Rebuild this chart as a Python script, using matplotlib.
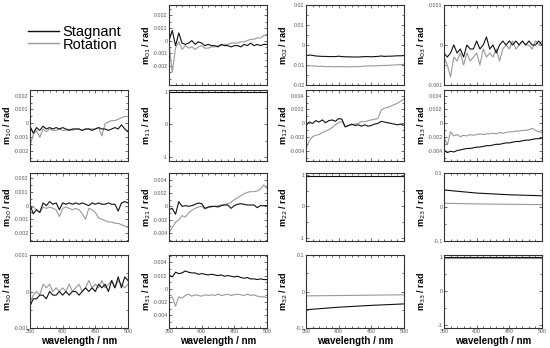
import numpy as np
import matplotlib
matplotlib.use("Agg")
import matplotlib.pyplot as plt
from matplotlib.ticker import MultipleLocator, AutoMinorLocator, FixedLocator

plt.rcParams['font.family'] = ['Liberation Sans', 'DejaVu Sans']

# wavelength grids (nm)
wl = np.arange(350, 505, 5)
wl4 = [350, 400, 450, 500]
wl2 = [350, 500]

# Mueller matrix elements, Stagnant (black) / Rotation (gray)
m01_s = [0.0000, 0.0008, -0.0004, 0.0006, -0.0002, -0.0003, -0.0002, 0.0000, -0.0003, -0.0001, -0.0002,
         -0.0004, -0.0003, -0.0004, -0.0004, -0.0005, -0.0003, -0.0004, -0.0004, -0.0005, -0.0004,
         -0.0004, -0.0005, -0.0003, -0.0004, -0.0002, -0.0004, -0.0003, -0.0004, -0.0003, -0.0003]
m01_r = [-0.0002, -0.0025, -0.0006, -0.0001, -0.0007, -0.0004, -0.0006, -0.0005, -0.0007, -0.0005, -0.0004,
         -0.0006, -0.0006, -0.0005, -0.0005, -0.0004, -0.0004, -0.0003, -0.0003, -0.0002, -0.0002,
         -0.0002, -0.0001, -0.0001, 0.0000, 0.0001, 0.0001, 0.0002, 0.0002, 0.0004, 0.0004]

m02_s = [-0.0055, -0.0050, -0.0052, -0.0055, -0.0056, -0.0057, -0.0057, -0.0058, -0.0058, -0.0058, -0.0056,
         -0.0058, -0.0059, -0.0059, -0.0060, -0.0060, -0.0060, -0.0059, -0.0058, -0.0058, -0.0059,
         -0.0058, -0.0057, -0.0055, -0.0057, -0.0056, -0.0056, -0.0055, -0.0054, -0.0054, -0.0053]
m02_r = [-0.0105, -0.0104, -0.0104, -0.0106, -0.0107, -0.0107, -0.0108, -0.0108, -0.0108, -0.0109, -0.0108,
         -0.0108, -0.0109, -0.0109, -0.0109, -0.0108, -0.0108, -0.0107, -0.0106, -0.0104, -0.0105,
         -0.0104, -0.0104, -0.0103, -0.0102, -0.0102, -0.0101, -0.0100, -0.0099, -0.0098, -0.0097]

m03_s = [-0.0002, -0.0003, -0.0002, 0.0000, -0.0002, -0.0001, -0.0003, 0.0000, -0.0001, -0.0001, 0.0001,
         -0.0001, 0.0000, 0.0002, -0.0001, 0.0000, -0.0002, 0.0000, 0.0001, 0.0000, 0.0001,
         0.0000, 0.0001, 0.0000, 0.0001, 0.0000, 0.0001, 0.0000, 0.0000, 0.0001, 0.0000]
m03_r = [-0.0003, -0.0005, -0.0008, -0.0003, -0.0004, -0.0002, -0.0005, -0.0002, -0.0004, -0.0003, -0.0002,
         -0.0005, -0.0001, -0.0003, -0.0002, -0.0003, -0.0001, -0.0004, -0.0001, 0.0000, -0.0001,
         0.0001, -0.0001, 0.0000, 0.0001, 0.0000, 0.0000, -0.0001, 0.0001, 0.0000, 0.0001]

m10_s = [-0.0002, -0.0007, -0.0003, -0.0005, -0.0002, -0.0004, -0.0003, -0.0004, -0.0003, -0.0004, -0.0003,
         -0.0004, -0.0005, -0.0004, -0.0004, -0.0004, -0.0005, -0.0004, -0.0004, -0.0005, -0.0004,
         -0.0003, -0.0004, -0.0004, -0.0005, -0.0004, -0.0003, -0.0004, -0.0001, -0.0004, -0.0006]
m10_r = [-0.0016, -0.0008, -0.0005, -0.0010, -0.0004, -0.0006, -0.0004, -0.0005, -0.0005, -0.0004, -0.0005,
         -0.0005, -0.0004, -0.0005, -0.0004, -0.0004, -0.0005, -0.0004, -0.0004, -0.0004, -0.0004,
         -0.0003, -0.0009, 0.0000, 0.0001, 0.0002, 0.0002, 0.0003, 0.0004, 0.0005, 0.0005]

m11_s = [0.99, 0.99]
m11_r = [0.98, 0.98]

m12_s = [-0.0003, 0.0002, 0.0000, 0.0004, 0.0002, 0.0005, 0.0001, 0.0004, 0.0005, 0.0003, 0.0007,
         0.0006, -0.0005, -0.0003, -0.0001, -0.0003, -0.0002, -0.0004, -0.0002, -0.0004, -0.0003,
         -0.0001, 0.0000, 0.0003, 0.0002, 0.0001, 0.0000, -0.0001, -0.0002, -0.0001, -0.0003]
m12_r = [-0.0036, -0.0025, -0.0019, -0.0017, -0.0016, -0.0013, -0.0011, -0.0009, -0.0006, -0.0002, 0.0001,
         0.0003, -0.0005, -0.0003, -0.0002, -0.0001, 0.0000, 0.0003, 0.0002, 0.0004, 0.0005,
         0.0006, 0.0007, 0.0019, 0.0022, 0.0023, 0.0025, 0.0027, 0.0029, 0.0032, 0.0035]

m13_s = [-0.0038, -0.0042, -0.0040, -0.0041, -0.0039, -0.0038, -0.0037, -0.0036, -0.0036, -0.0035, -0.0034,
         -0.0034, -0.0033, -0.0032, -0.0032, -0.0031, -0.0030, -0.0030, -0.0029, -0.0028, -0.0028,
         -0.0027, -0.0026, -0.0026, -0.0025, -0.0024, -0.0024, -0.0023, -0.0022, -0.0022, -0.0021]
m13_r = [-0.0020, -0.0031, -0.0012, -0.0018, -0.0016, -0.0019, -0.0017, -0.0018, -0.0016, -0.0017, -0.0016,
         -0.0015, -0.0016, -0.0015, -0.0015, -0.0014, -0.0015, -0.0013, -0.0014, -0.0013, -0.0012,
         -0.0012, -0.0011, -0.0011, -0.0010, -0.0010, -0.0009, -0.0007, -0.0010, -0.0012, -0.0013]

m20_s = [0.0001, -0.0006, -0.0003, -0.0005, 0.0002, 0.0000, 0.0003, 0.0001, 0.0002, -0.0003, 0.0002,
         0.0001, 0.0002, 0.0001, 0.0002, 0.0001, 0.0002, 0.0001, 0.0000, 0.0002, 0.0001,
         0.0002, 0.0001, 0.0001, 0.0002, 0.0001, 0.0001, -0.0004, 0.0002, 0.0003, 0.0002]
m20_r = [-0.0002, -0.0001, -0.0003, -0.0005, -0.0001, -0.0002, -0.0001, -0.0002, -0.0003, -0.0008, -0.0002,
         -0.0001, -0.0002, -0.0003, -0.0002, -0.0003, -0.0006, -0.0010, -0.0002, -0.0003, -0.0005,
         -0.0009, -0.0010, -0.0011, -0.0012, -0.0012, -0.0013, -0.0013, -0.0014, -0.0015, -0.0016]

m21_s = [-0.0005, -0.0003, -0.0012, 0.0007, 0.0000, 0.0001, 0.0000, 0.0001, 0.0003, 0.0005, 0.0004,
         -0.0003, -0.0001, 0.0000, 0.0000, -0.0001, 0.0001, 0.0002, 0.0002, -0.0003, 0.0001,
         0.0003, 0.0004, 0.0003, 0.0002, 0.0002, 0.0002, -0.0002, 0.0001, 0.0001, 0.0001]
m21_r = [-0.0040, -0.0032, -0.0024, -0.0020, -0.0014, -0.0016, -0.0010, -0.0006, -0.0003, -0.0001, 0.0000,
         -0.0004, -0.0002, -0.0001, 0.0000, 0.0001, 0.0002, 0.0003, 0.0004, 0.0006, 0.0010,
         0.0013, 0.0016, 0.0019, 0.0021, 0.0022, 0.0022, 0.0023, 0.0026, 0.0032, 0.0027]

m22_s = [0.98, 0.98]
m22_r = [0.97, 0.97]

m23_s = [0.050, 0.041, 0.036, 0.033]
m23_r = [0.011, 0.009, 0.008, 0.007]

m30_s = [-0.0004, -0.0002, -0.0002, -0.0001, -0.0001, -0.0002, 0.0000, -0.0001, -0.0001, 0.0000, -0.0001,
         0.0000, -0.0001, 0.0000, 0.0000, -0.0001, 0.0000, 0.0001, 0.0000, 0.0001, 0.0000,
         0.0002, 0.0001, 0.0002, 0.0000, 0.0003, 0.0001, 0.0004, 0.0001, 0.0004, 0.0003]
m30_r = [-0.0003, -0.0001, 0.0000, -0.0001, 0.0002, 0.0001, 0.0002, 0.0000, 0.0001, 0.0000, 0.0001,
         0.0000, 0.0002, 0.0000, 0.0001, 0.0002, 0.0000, 0.0001, 0.0003, 0.0001, 0.0002,
         0.0001, 0.0003, 0.0001, 0.0002, 0.0003, 0.0001, 0.0003, 0.0002, 0.0001, 0.0002]

m31_s = [0.0021, 0.0018, 0.0025, 0.0023, 0.0024, 0.0027, 0.0025, 0.0024, 0.0024, 0.0022, 0.0023,
         0.0022, 0.0021, 0.0022, 0.0021, 0.0020, 0.0021, 0.0019, 0.0020, 0.0019, 0.0018,
         0.0019, 0.0017, 0.0016, 0.0017, 0.0015, 0.0015, 0.0014, 0.0015, 0.0014, 0.0014]
m31_r = [-0.0015, -0.0012, -0.0026, -0.0012, -0.0014, -0.0010, -0.0008, -0.0011, -0.0009, -0.0010, -0.0011,
         -0.0009, -0.0010, -0.0009, -0.0010, -0.0008, -0.0010, -0.0009, -0.0008, -0.0010, -0.0009,
         -0.0008, -0.0009, -0.0010, -0.0008, -0.0010, -0.0009, -0.0011, -0.0012, -0.0012, -0.0013]

m32_s = [-0.050, -0.043, -0.038, -0.034]
m32_r = [-0.012, -0.011, -0.010, -0.009]

m33_s = [0.99, 0.99]
m33_r = [0.98, 0.98]

# y tick values / labels per kind of panel
t2 = [-0.002, -0.001, 0, 0.001, 0.002]
l2 = ['-0.002', '-0.001', '0', '0.001', '0.002']
t4 = [-0.004, -0.002, 0, 0.002, 0.004]
l4 = ['-0.004', '-0.002', '0', '0.002', '0.004']
t1 = [-0.001, 0, 0.001]
l1 = ['-0.001', '0', '0.001']
tu = [-1, 0, 1]
lu = ['-1', '0', '1']
t01 = [-0.1, 0, 0.1]
l01 = ['-0.1', '0', '0.1']
t02 = [-0.02, -0.01, 0, 0.01, 0.02]
l02 = ['-0.02', '-0.01', '0', '0.01', '0.02']

x_ticks = [350, 400, 450, 500]

# panel -> (x, stagnant, rotation, ylim, ticks, labels)
panels = {
    (0, 1): (wl, m01_s, m01_r, (-0.0035, 0.0028), t2, l2),
    (0, 2): (wl, m02_s, m02_r, (-0.02, 0.02), t02, l02),
    (0, 3): (wl, m03_s, m03_r, (-0.001, 0.001), t1, l1),
    (1, 0): (wl, m10_s, m10_r, (-0.0027, 0.0024), t2, l2),
    (1, 1): (wl2, m11_s, m11_r, (-1.12, 1.05), tu, lu),
    (1, 2): (wl, m12_s, m12_r, (-0.0054, 0.0048), t4, l4),
    (1, 3): (wl, m13_s, m13_r, (-0.0054, 0.0048), t4, l4),
    (2, 0): (wl, m20_s, m20_r, (-0.0026, 0.0024), t2, l2),
    (2, 1): (wl, m21_s, m21_r, (-0.0052, 0.005), t4, l4),
    (2, 2): (wl2, m22_s, m22_r, (-1.1, 1.06), tu, lu),
    (2, 3): (wl4, m23_s, m23_r, (-0.1, 0.1), t01, l01),
    (3, 0): (wl, m30_s, m30_r, (-0.001, 0.001), t1, l1),
    (3, 1): (wl, m31_s, m31_r, (-0.0059, 0.0051), t4, l4),
    (3, 2): (wl4, m32_s, m32_r, (-0.1, 0.1), t01, l01),
    (3, 3): (wl2, m33_s, m33_r, (-1.1, 1.06), tu, lu),
}

W, H = 550, 348
fig = plt.figure(figsize=(5.5, 3.48), dpi=100)

# layout in pixels
col_left = [30, 169, 306, 444]
col_w = 98
row_top = [5, 90, 173, 255]
row_bot = [85, 161, 241, 328]

black = '#111111'
gray = '#999999'

for (i, j), (x, ys, yr, ylim, yt, yl) in panels.items():
    ax = fig.add_axes([col_left[j] / W, 1 - row_bot[i] / H, col_w / W, (row_bot[i] - row_top[i]) / H])
    ax.plot(x, yr, color=gray, lw=0.8)
    ax.plot(x, ys, color=black, lw=0.8)
    ax.set_xlim(350, 500)
    ax.set_ylim(*ylim)
    ax.xaxis.set_major_locator(FixedLocator(x_ticks))
    ax.xaxis.set_minor_locator(MultipleLocator(10))
    ax.yaxis.set_major_locator(FixedLocator(yt))
    ax.set_yticklabels(yl)
    ax.yaxis.set_minor_locator(AutoMinorLocator(2))
    ax.tick_params(which='both', direction='in', top=True, right=True,
                   labelsize=3.8, labelcolor='#555555', pad=1, width=0.5, color='#333333')
    ax.tick_params(which='major', length=2.5)
    ax.tick_params(which='minor', length=1.2)
    for s in ax.spines.values():
        s.set_linewidth(0.8)
        s.set_color('#333333')
    ax.set_ylabel('m$_{%d%d}$ / rad' % (i, j), fontsize=6.5, fontweight='bold', va='center')
    ax.yaxis.set_label_coords(-22 / col_w, 0.5)
    if i == 3:
        ax.set_xlabel('wavelength / nm', fontsize=7, fontweight='bold', labelpad=1)
    else:
        ax.set_xticklabels([])

# legend in the m00 slot
lax = fig.add_axes([col_left[0] / W, 1 - row_bot[0] / H, col_w / W, (row_bot[0] - row_top[0]) / H])
lax.axis('off')
lax.plot([], [], color=black, lw=1.0, label='Stagnant')
lax.plot([], [], color=gray, lw=1.0, label='Rotation')
lax.legend(loc='upper left', bbox_to_anchor=(28 / W, 1 - 25 / H), bbox_transform=fig.transFigure,
           frameon=False, fontsize=10.5, handlelength=2.1, handletextpad=0.25,
           labelspacing=-0.1, borderaxespad=0, borderpad=0)

fig.savefig('out.png', dpi=100)
